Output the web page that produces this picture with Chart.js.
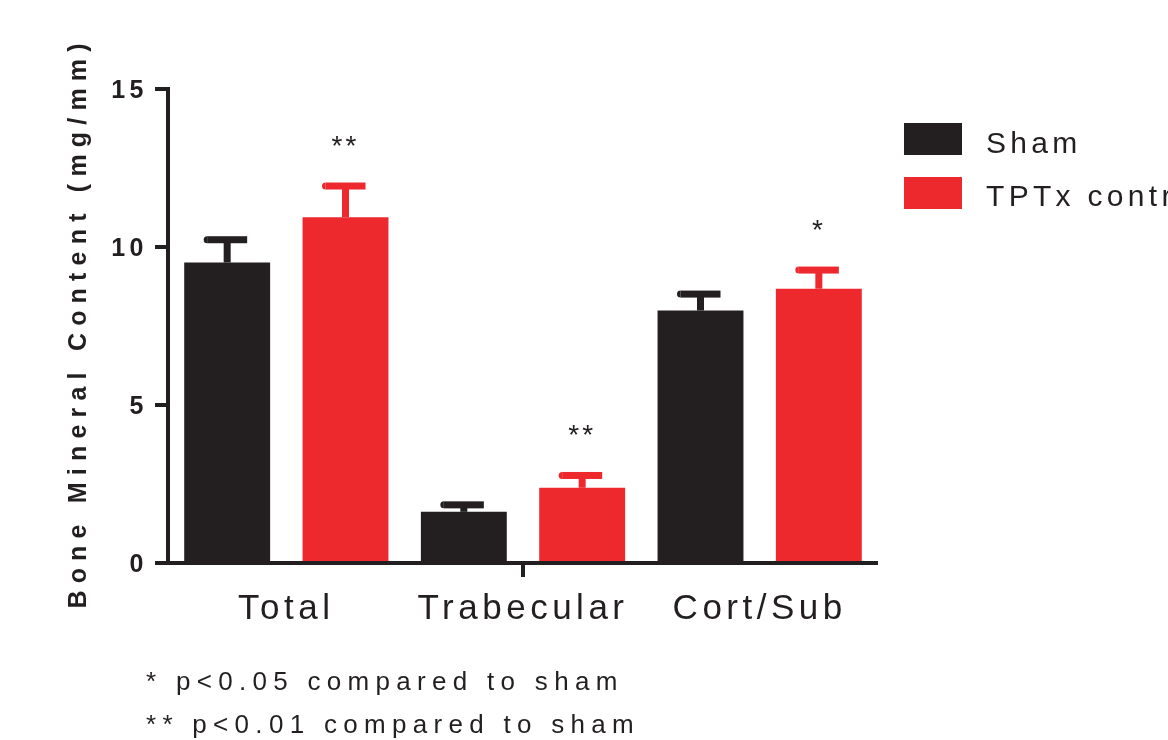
<!DOCTYPE html>
<html>
<head>
<meta charset="utf-8">
<title>Bone Mineral Content</title>
<script src="https://cdn.jsdelivr.net/npm/chart.js@4/dist/chart.umd.min.js"></script>
<style>
  html, body { margin: 0; padding: 0; background: #ffffff; }
  #wrap { width: 1168px; height: 740px; position: relative; overflow: hidden; }
  canvas { display: block; }
</style>
</head>
<body>
<div id="wrap"><canvas id="bmc" width="1168" height="740"></canvas></div>
<script>
// ---- data ----
const categories = ['Total', 'Trabecular', 'Cort/Sub'];
const seriesNames = ['Sham', 'TPTx control'];
const shamMean = [9.51, 1.62, 7.99];
const shamSem  = [0.72, 0.22, 0.52];
const tptxMean = [10.94, 2.38, 8.68];
const tptxSem  = [0.99, 0.39, 0.59];
const shamStars = ['', '', ''];
const tptxStars = ['**', '**', '*'];
const yTickValues = [0, 5, 10, 15];
const yTitle = 'Bone Mineral Content (mg/mm)';
const footnotes = ['* p<0.05 compared to sham', '** p<0.01 compared to sham'];

// ---- style ----
const FONT = "'Liberation Sans', Arial, Helvetica, sans-serif";
const INK = '#231F20';
const RED = '#ED292E';

// spacing applied to the tick labels drawn by the scales
const tickSpacing = {
  id: 'tickSpacing',
  beforeDraw(chart) { chart.ctx.letterSpacing = '4.5px'; }
};

// SEM error bars (upper half only) and significance stars
const errorBars = {
  id: 'errorBars',
  afterDatasetsDraw(chart) {
    const ctx = chart.ctx;
    const yScale = chart.scales.y;
    ctx.save();
    chart.data.datasets.forEach((ds, di) => {
      const meta = chart.getDatasetMeta(di);
      meta.data.forEach((bar, i) => {
        const top = yScale.getPixelForValue(ds.data[i] + ds.errors[i]);
        const x = bar.x;
        ctx.fillStyle = ds.backgroundColor;
        // stem
        ctx.fillRect(x - 3.5, top, 7, bar.y - top);
        // cap with a rounded left end
        ctx.fillRect(x - 20, top - 3.5, 40, 7);
        ctx.beginPath();
        ctx.arc(x - 20, top, 3.5, Math.PI / 2, Math.PI * 1.5);
        ctx.fill();
        // significance marker
        const s = ds.stars[i];
        if (s) {
          ctx.fillStyle = INK;
          ctx.font = '28px ' + FONT;
          ctx.letterSpacing = '3px';
          ctx.textAlign = 'center';
          ctx.textBaseline = 'alphabetic';
          ctx.fillText(s, x, top - 31);
        }
      });
    });
    ctx.restore();
  }
};

// axis title, legend and footnotes
const annotations = {
  id: 'annotations',
  afterDraw(chart) {
    const ctx = chart.ctx;
    const area = chart.chartArea;
    ctx.save();
    ctx.fillStyle = INK;

    // y axis title
    ctx.save();
    ctx.translate(86, (area.top + area.bottom) / 2);
    ctx.rotate(-Math.PI / 2);
    ctx.font = 'bold 25px ' + FONT;
    ctx.letterSpacing = '7.2px';
    ctx.textAlign = 'center';
    ctx.textBaseline = 'alphabetic';
    ctx.fillText(yTitle, 3.6, 0);
    ctx.restore();

    // legend
    ctx.font = '30px ' + FONT;
    ctx.letterSpacing = '4.3px';
    ctx.textAlign = 'left';
    ctx.textBaseline = 'alphabetic';
    chart.data.datasets.forEach((ds, i) => {
      ctx.fillStyle = ds.backgroundColor;
      ctx.fillRect(904, 123 + i * 54, 58, 32);
      ctx.fillStyle = INK;
      ctx.fillText(ds.label, 986, 153 + i * 53);
    });

    // footnotes
    ctx.font = '26px ' + FONT;
    ctx.letterSpacing = '6.3px';
    footnotes.forEach((t, i) => {
      ctx.fillText(t, 146, 690 + i * 43);
    });
    ctx.restore();
  }
};

new Chart(document.getElementById('bmc'), {
  type: 'bar',
  data: {
    labels: categories,
    datasets: [
      { label: seriesNames[0], data: shamMean, errors: shamSem, stars: shamStars,
        backgroundColor: INK, borderWidth: 0 },
      { label: seriesNames[1], data: tptxMean, errors: tptxSem, stars: tptxStars,
        backgroundColor: RED, borderWidth: 0 }
    ]
  },
  options: {
    responsive: false,
    animation: false,
    events: [],
    datasets: { bar: { categoryPercentage: 1.0, barPercentage: 0.726 } },
    layout: { padding: { left: 108, top: 89, right: 290, bottom: 117 } },
    plugins: { legend: { display: false }, tooltip: { enabled: false } },
    scales: {
      x: {
        offset: true,
        afterFit(s) { s.height = 60; },
        border: { display: true, width: 4, color: INK },
        grid: {
          offset: false,
          drawOnChartArea: false,
          drawTicks: true,
          tickLength: 14,
          lineWidth: c => (c.index === 1 ? 4 : 0),
          color: c => (c.index === 1 ? INK : 'rgba(0,0,0,0)')
        },
        ticks: { color: INK, font: { family: FONT, size: 35 }, padding: 11, maxRotation: 0 }
      },
      y: {
        min: yTickValues[0],
        max: yTickValues[yTickValues.length - 1],
        afterFit(s) { s.width = 60; },
        afterBuildTicks(s) { s.ticks = yTickValues.map(v => ({ value: v })); },
        border: { display: true, width: 4, color: INK },
        grid: { drawOnChartArea: false, drawTicks: true, tickLength: 13, lineWidth: 4, color: INK },
        ticks: { color: INK, font: { family: FONT, size: 25, weight: 'bold' }, padding: 7, labelOffset: 2 }
      }
    }
  },
  plugins: [tickSpacing, errorBars, annotations]
});
</script>
</body>
</html>
